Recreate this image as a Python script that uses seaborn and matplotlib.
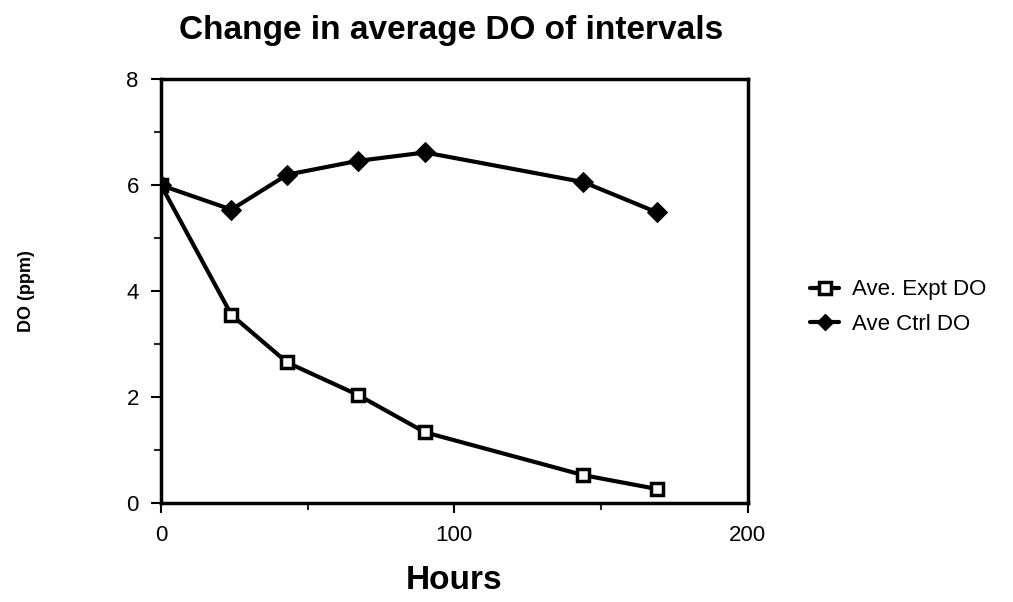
import matplotlib
matplotlib.use("Agg")
import matplotlib.pyplot as plt
import seaborn as sns
import pandas as pd
from matplotlib.ticker import MultipleLocator
from matplotlib.lines import Line2D

hours = [0, 24, 43, 67, 90, 144, 169]
expt_do = [6.0, 3.55, 2.65, 2.04, 1.33, 0.52, 0.26]
ctrl_do = [6.0, 5.54, 6.20, 6.46, 6.62, 6.06, 5.49]
series_names = ["Ave. Expt DO", "Ave Ctrl DO"]

df = pd.concat([
    pd.DataFrame({"Hours": hours, "DO": expt_do, "series": series_names[0]}),
    pd.DataFrame({"Hours": hours, "DO": ctrl_do, "series": series_names[1]}),
])

sns.set_style("ticks")
plt.rcParams["font.family"] = ["Liberation Sans", "DejaVu Sans"]
plt.rcParams["text.color"] = "black"
plt.rcParams["axes.labelcolor"] = "black"

fig = plt.figure(figsize=(10.13, 6.02), dpi=100)
ax = fig.add_axes([0.159, 0.165, 0.579, 0.703])

sns.lineplot(data=df, x="Hours", y="DO", hue="series", style="series",
             palette=["black", "black"], markers={series_names[0]: "s", series_names[1]: "o"},
             dashes=False, linewidth=3, markersize=10, ax=ax, legend=False)
for ln in ax.lines:
    if ln.get_marker() == "s":
        ln.set_markerfacecolor("white")
        ln.set_markeredgecolor("black")
        ln.set_markeredgewidth(2.5)
        ln.set_markersize(9)
    else:
        ln.set_marker("D")
        ln.set_markerfacecolor("black")
        ln.set_markeredgecolor("black")
        ln.set_markersize(10)

ax.set_xlim(0, 200)
ax.set_ylim(0, 8)
ax.xaxis.set_major_locator(MultipleLocator(100))
ax.xaxis.set_minor_locator(MultipleLocator(50))
ax.yaxis.set_major_locator(MultipleLocator(2))
ax.yaxis.set_minor_locator(MultipleLocator(1))
for s in ax.spines.values():
    s.set_linewidth(2.5)
    s.set_color("black")
ax.tick_params(which="major", length=7, width=1.5, labelsize=16, colors="black", pad=9)
ax.tick_params(which="minor", length=5, width=1.5)
ax.set_xlabel("Hours", fontsize=24, fontweight="bold", labelpad=14)
ax.set_ylabel("DO (ppm)", fontsize=13, fontweight="bold")
ax.yaxis.set_label_coords(-0.215, 0.5)
fig.suptitle("Change in average DO of intervals", x=0.445, y=0.975,
             fontsize=24, fontweight="bold")

handles = [
    Line2D([], [], color="black", lw=3, marker="s", markerfacecolor="white",
           markeredgewidth=2.5, markersize=8),
    Line2D([], [], color="black", lw=3, marker="D", markersize=8),
]
fig.legend(handles, series_names, loc="center left", bbox_to_anchor=(0.78, 0.49),
           frameon=False, fontsize=16, handlelength=1.3, handletextpad=0.6,
           labelspacing=0.6)

fig.savefig("out.png", dpi=100)
